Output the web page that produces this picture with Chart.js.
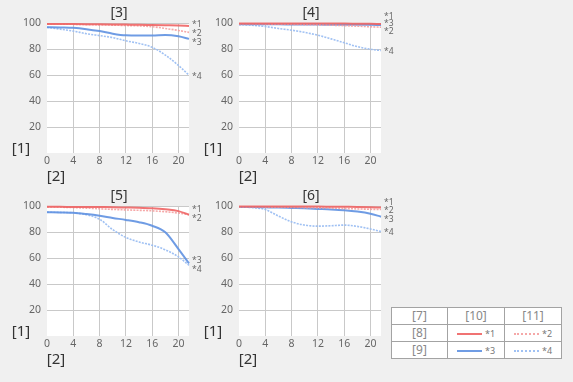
<!DOCTYPE html>
<html><head><meta charset="utf-8">
<script src="https://cdn.jsdelivr.net/npm/chart.js@4"></script>
<style>
html,body{margin:0;padding:0;background:#f0f0f0;}
body{width:573px;height:382px;position:relative;overflow:hidden;font-family:"Noto Sans",sans-serif;}
canvas{position:absolute;}
.lbl{position:absolute;transform:translate(-50%,-50%);white-space:nowrap;color:#333;font-size:14px;line-height:1;}
#lg{position:absolute;left:391px;top:307px;width:170px;height:51px;border-collapse:collapse;background:#fff;table-layout:fixed;}
#lg td{border:1.5px solid #a3a3a3;text-align:center;vertical-align:middle;padding:0;height:16px;font-size:12px;color:#888;line-height:1;}
#lg .sw{display:inline-block;width:25px;height:0;vertical-align:middle;margin-right:3px;}
#lg .st{font-size:9px;color:#777;vertical-align:middle;}
</style></head><body>
<script>
// ---- data ----
const xPositions = [0, 2, 4, 6, 8, 10, 12, 14, 16, 18, 20, 21.6];
const xTicks = [0, 4, 8, 12, 16, 20];
const yTicks = [20, 40, 60, 80, 100];
const panelTitles = ['[3]', '[4]', '[5]', '[6]'];
const yAxisLabel = '[1]';
const xAxisLabel = '[2]';
const seriesNames = ['*1', '*2', '*3', '*4'];
const legendHeader = ['[7]', '[10]', '[11]'];
const legendRows = ['[8]', '[9]'];

// panel [3]
const p3_s1 = [99.5, 99.5, 99.4, 99.3, 99.2, 99.1, 99.0, 98.9, 98.7, 98.5, 98.3, 98.0];
const p3_s2 = [99.5, 99.4, 99.2, 99.0, 98.8, 98.6, 98.3, 98.0, 97.4, 96.0, 94.5, 93.0];
const p3_s3 = [97.0, 96.8, 96.5, 95.5, 94.0, 92.0, 90.7, 90.5, 90.5, 91.0, 90.0, 88.0];
const p3_s4 = [97.0, 95.5, 94.0, 92.0, 90.5, 89.0, 86.5, 84.5, 81.5, 75.5, 67.5, 60.0];
const p3_labels = [99.2, 92.3, 85.4, 59.2];
// panel [4]
const p4_s1 = [99.8, 99.8, 99.8, 99.8, 99.8, 99.8, 99.8, 99.8, 99.8, 99.7, 99.6, 99.5];
const p4_s2 = [99.5, 99.5, 99.4, 99.3, 99.2, 99.0, 98.8, 98.5, 98.2, 97.8, 97.3, 97.0];
const p4_s3 = [99.3, 99.3, 99.2, 99.2, 99.1, 99.0, 99.0, 98.9, 98.9, 98.8, 98.8, 98.7];
const p4_s4 = [99.0, 98.5, 97.5, 96.0, 94.7, 93.0, 90.8, 88.0, 85.0, 82.0, 80.0, 79.0];
const p4_labels = [105.0, 93.8, 99.6, 78.0];
// panel [5]
const p5_s1 = [99.6, 99.6, 99.5, 99.5, 99.4, 99.3, 99.1, 98.9, 98.5, 97.7, 96.3, 93.5];
const p5_s2 = [99.5, 99.3, 99.0, 98.6, 98.1, 97.6, 97.2, 96.9, 96.5, 95.8, 94.8, 93.5];
const p5_s3 = [95.5, 95.3, 95.0, 94.0, 92.7, 91.0, 89.5, 87.7, 85.0, 80.0, 67.0, 56.0];
const p5_s4 = [95.5, 95.3, 95.0, 93.5, 90.0, 82.0, 76.0, 72.5, 70.0, 66.5, 61.0, 54.5];
const p5_labels = [97.5, 90.8, 58.0, 51.0];
// panel [6]
const p6_s1 = [99.8, 99.8, 99.8, 99.8, 99.8, 99.8, 99.8, 99.7, 99.6, 99.5, 99.3, 99.0];
const p6_s2 = [99.5, 99.5, 99.4, 99.3, 99.2, 99.0, 98.8, 98.6, 98.3, 98.0, 97.7, 97.5];
const p6_s3 = [99.5, 99.4, 99.2, 99.0, 98.7, 98.4, 98.0, 97.6, 97.0, 96.0, 94.3, 92.0];
const p6_s4 = [99.5, 99.0, 97.5, 92.5, 88.0, 85.5, 84.7, 85.0, 85.5, 84.5, 82.5, 80.5];
const p6_labels = [102.6, 96.7, 89.8, 80.0];

// ---- styles ----
const seriesStyles = [
  {color: 'rgba(238,100,100,0.9)', width: 2, dash: []},
  {color: 'rgba(244,158,158,0.9)', width: 1.6, dash: [2, 1.2]},
  {color: 'rgba(95,145,225,0.9)', width: 2, dash: []},
  {color: 'rgba(155,190,242,0.95)', width: 1.6, dash: [2, 1.2]}
];

const panels = [
  {title: panelTitles[0], series: [p3_s1, p3_s2, p3_s3, p3_s4], labels: p3_labels, left: 47, top: 23},
  {title: panelTitles[1], series: [p4_s1, p4_s2, p4_s3, p4_s4], labels: p4_labels, left: 239, top: 23},
  {title: panelTitles[2], series: [p5_s1, p5_s2, p5_s3, p5_s4], labels: p5_labels, left: 47, top: 206},
  {title: panelTitles[3], series: [p6_s1, p6_s2, p6_s3, p6_s4], labels: p6_labels, left: 239, top: 206}
];

const PW = 142, PH = 130, YW = 32, XH = 18, PT = 12, PR = 26;

const bgPlugin = {
  id: 'plotBg',
  beforeDraw(chart) {
    const a = chart.chartArea, c = chart.ctx;
    c.save(); c.fillStyle = '#ffffff';
    c.fillRect(a.left, a.top, a.right - a.left, a.bottom - a.top);
    c.restore();
  }
};
const starPlugin = {
  id: 'starLabels',
  afterDatasetsDraw(chart, args, opts) {
    const c = chart.ctx, a = chart.chartArea, ys = chart.scales.y;
    c.save();
    c.font = '8.5px "Noto Sans"';
    c.fillStyle = '#666';
    c.textBaseline = 'middle';
    c.textAlign = 'left';
    (opts.positions || []).forEach((v, i) => {
      c.fillText(seriesNames[i], a.right + 3, ys.getPixelForValue(v));
    });
    c.restore();
  }
};

function addLabel(text, cx, cy, size) {
  const d = document.createElement('div');
  d.className = 'lbl';
  d.textContent = text;
  d.style.left = cx + 'px';
  d.style.top = cy + 'px';
  if (size) d.style.fontSize = size + 'px';
  document.body.appendChild(d);
}

panels.forEach(p => {
  const cv = document.createElement('canvas');
  const W = YW + PW + PR, H = PT + PH + XH;
  cv.width = W; cv.height = H;
  cv.style.left = (p.left - YW) + 'px';
  cv.style.top = (p.top - PT) + 'px';
  cv.style.width = W + 'px'; cv.style.height = H + 'px';
  document.body.appendChild(cv);

  const datasets = p.series.map((vals, i) => ({
    label: seriesNames[i],
    data: xPositions.map((x, k) => ({x: x, y: vals[k]})),
    borderColor: seriesStyles[i].color,
    borderWidth: seriesStyles[i].width,
    borderDash: seriesStyles[i].dash,
    pointRadius: 0,
    fill: false,
    cubicInterpolationMode: 'monotone',
    clip: 4
  }));

  const tickFont = {family: 'Noto Sans', size: 10.5};
  new Chart(cv, {
    type: 'line',
    data: {datasets: datasets},
    options: {
      responsive: false, animation: false, devicePixelRatio: 1,
      layout: {padding: {top: PT, right: PR, left: 0, bottom: 0}},
      plugins: {legend: {display: false}, tooltip: {enabled: false}, title: {display: false},
        starLabels: {positions: p.labels}},
      scales: {
        x: {
          type: 'linear', min: 0, max: 21.6,
          afterBuildTicks: s => { s.ticks = xTicks.map(v => ({value: v})); },
          afterFit: s => { s.height = XH; },
          grid: {color: ctx => (ctx.tick && ctx.tick.value === 0) ? 'rgba(0,0,0,0)' : '#c9c9c9', lineWidth: 1, drawTicks: false},
          border: {display: false},
          ticks: {padding: 2, color: '#666', font: tickFont, maxRotation: 0, autoSkip: false}
        },
        y: {
          type: 'linear', min: 0, max: 100,
          afterBuildTicks: s => { s.ticks = yTicks.map(v => ({value: v})); },
          afterFit: s => { s.width = YW; },
          grid: {color: '#c9c9c9', lineWidth: 1, drawTicks: false},
          border: {display: false},
          ticks: {padding: 6, color: '#666', font: tickFont, autoSkip: false}
        }
      }
    },
    plugins: [bgPlugin, starPlugin]
  });

  addLabel(p.title, p.left + PW / 2 + 1, p.top - 11, 14);
  addLabel(yAxisLabel, p.left - 26, p.top + 123.5, 15);
  addLabel(xAxisLabel, p.left + 9, p.top + 151.5, 15);
});

// legend table
const tbl = document.createElement('table');
tbl.id = 'lg';
const hdr = tbl.insertRow();
legendHeader.forEach(t => { const c = hdr.insertCell(); c.textContent = t; });
legendRows.forEach((rt, r) => {
  const row = tbl.insertRow();
  const c0 = row.insertCell(); c0.textContent = rt;
  [0, 1].forEach(j => {
    const idx = r * 2 + j;
    const st = seriesStyles[idx];
    const c = row.insertCell();
    const sw = document.createElement('span');
    sw.className = 'sw';
    sw.style.borderTop = (st.dash.length ? '2px dotted ' : '2px solid ') + st.color;
    const tx = document.createElement('span');
    tx.className = 'st';
    tx.textContent = seriesNames[idx];
    c.appendChild(sw); c.appendChild(tx);
  });
});
const cg = document.createElement('colgroup');
[56, 57, 57].forEach(w => { const col = document.createElement('col'); col.style.width = w + 'px'; cg.appendChild(col); });
tbl.insertBefore(cg, tbl.firstChild);
document.body.appendChild(tbl);
</script>
</body></html>
